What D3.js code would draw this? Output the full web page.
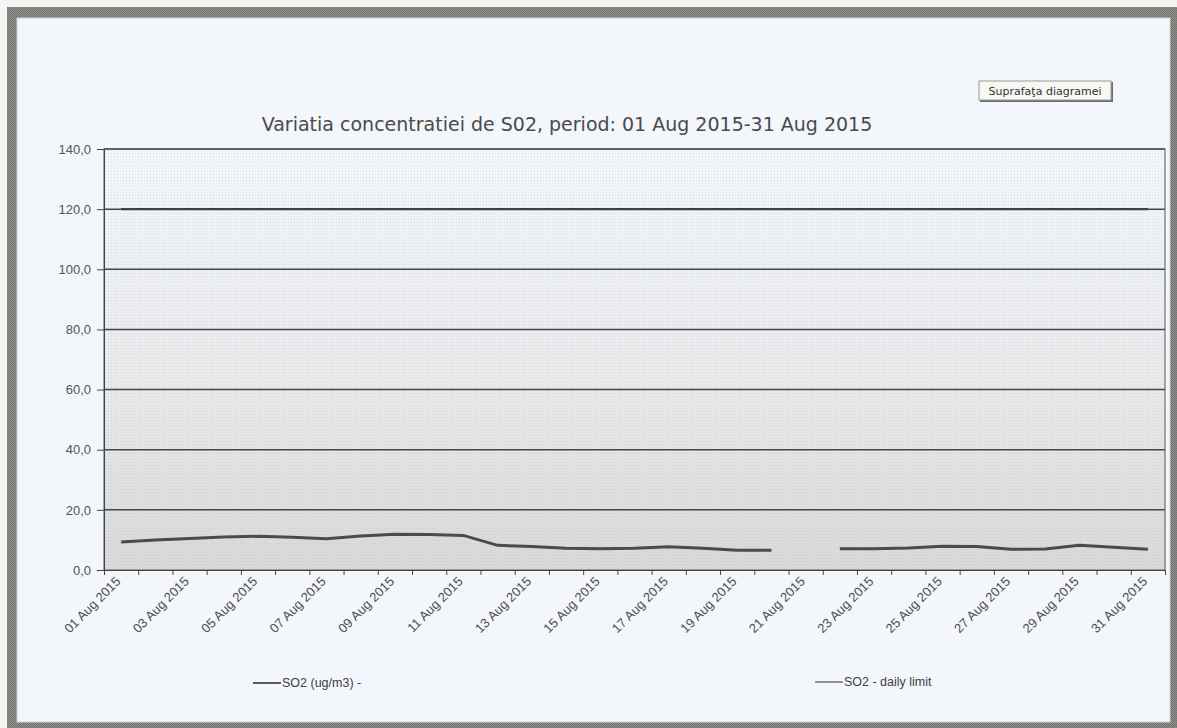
<!DOCTYPE html>
<html>
<head>
<meta charset="utf-8">
<script src="https://cdn.jsdelivr.net/npm/d3@7"></script>
<style>
  body { margin: 0; background: #f4f4f2; }
  svg { display: block; }
  .tick text { font-family: "Liberation Sans", Arial, sans-serif; }
</style>
</head>
<body>
<div id="chart"></div>
<script>
// Data
const days = [
  "01 Aug 2015", "02 Aug 2015", "03 Aug 2015", "04 Aug 2015", "05 Aug 2015", "06 Aug 2015",
  "07 Aug 2015", "08 Aug 2015", "09 Aug 2015", "10 Aug 2015", "11 Aug 2015", "12 Aug 2015",
  "13 Aug 2015", "14 Aug 2015", "15 Aug 2015", "16 Aug 2015", "17 Aug 2015", "18 Aug 2015",
  "19 Aug 2015", "20 Aug 2015", "21 Aug 2015", "22 Aug 2015", "23 Aug 2015", "24 Aug 2015",
  "25 Aug 2015", "26 Aug 2015", "27 Aug 2015", "28 Aug 2015", "29 Aug 2015", "30 Aug 2015",
  "31 Aug 2015"
];
// null = no measurement that day
const so2Values = [
  9.3, 10.0, 10.5, 11.0, 11.2, 10.9, 10.4, 11.3, 11.9, 11.8, 11.5, 8.2,
  7.8, 7.2, 7.1, 7.2, 7.7, 7.2, 6.6, 6.6, null, 7.1, 7.1, 7.3,
  7.9, 7.8, 6.9, 7.0, 8.2, 7.6, 6.9
];
const dailyLimit = days.map(() => 120);
const yTicks = [0, 20, 40, 60, 80, 100, 120, 140];
const labelDays = days.filter((d, i) => i % 2 === 0);

const W = 1177, H = 728;
const plot = { left: 104, right: 1165, top: 149, bottom: 570 };

const svg = d3.select("#chart").append("svg")
  .attr("width", W)
  .attr("height", H);

const defs = svg.append("defs");

// rough texture for the outer frame
const pat = defs.append("pattern")
  .attr("id", "frameTex")
  .attr("width", 2).attr("height", 2)
  .attr("patternUnits", "userSpaceOnUse");
pat.append("rect").attr("width", 2).attr("height", 2).attr("fill", "#8e8f8b");
pat.append("rect").attr("width", 1).attr("height", 1).attr("fill", "#6f706c");
pat.append("rect").attr("x", 1).attr("y", 1).attr("width", 1).attr("height", 1).attr("fill", "#7a7b77");

const grad = defs.append("linearGradient")
  .attr("id", "plotGrad")
  .attr("x1", 0).attr("y1", 0).attr("x2", 0).attr("y2", 1);
grad.append("stop").attr("offset", "0%").attr("stop-color", "#f3f6fa");
grad.append("stop").attr("offset", "55%").attr("stop-color", "#e8eaec");
grad.append("stop").attr("offset", "100%").attr("stop-color", "#d8d9d8");

// dotted overlay on plot area
const dots = defs.append("pattern")
  .attr("id", "plotDots")
  .attr("width", 3).attr("height", 3)
  .attr("patternUnits", "userSpaceOnUse");
dots.append("rect").attr("width", 1).attr("height", 1).attr("fill", "#b0b0b0").attr("opacity", 0.3);

// page + frame
svg.append("rect").attr("width", W).attr("height", H).attr("fill", "#f4f4f2");
svg.append("rect").attr("x", 7).attr("y", 7).attr("width", W - 7).attr("height", H - 7)
  .attr("fill", "url(#frameTex)");
svg.append("rect").attr("x", 17).attr("y", 18).attr("width", 1153).attr("height", 704)
  .attr("fill", "#f3f6fb")
  .attr("stroke", "#d0d3d6");

// scales
const x = d3.scaleBand().domain(days).range([plot.left, plot.right]).padding(0);
const xEdge = d3.scaleLinear().domain([0, days.length]).range([plot.left, plot.right]);
const y = d3.scaleLinear().domain([0, 140]).range([plot.bottom, plot.top]);
const cx = d => x(d) + x.bandwidth() / 2;

// plot area
svg.append("rect")
  .attr("x", plot.left).attr("y", plot.top)
  .attr("width", plot.right - plot.left).attr("height", plot.bottom - plot.top)
  .attr("fill", "url(#plotGrad)");
svg.append("rect")
  .attr("x", plot.left).attr("y", plot.top)
  .attr("width", plot.right - plot.left).attr("height", plot.bottom - plot.top)
  .attr("fill", "url(#plotDots)");

// gridlines
svg.append("g")
  .selectAll("line")
  .data(yTicks.filter(t => t > 0))
  .join("line")
  .attr("x1", plot.left).attr("x2", plot.right)
  .attr("y1", d => y(d)).attr("y2", d => y(d))
  .attr("stroke", "#444545")
  .attr("stroke-width", 1.5);

// plot border
svg.append("rect")
  .attr("x", plot.left).attr("y", plot.top)
  .attr("width", plot.right - plot.left).attr("height", plot.bottom - plot.top)
  .attr("fill", "none")
  .attr("stroke", "#555")
  .attr("stroke-width", 1);

// y axis
const yAxis = svg.append("g")
  .attr("transform", `translate(${plot.left},0)`)
  .call(d3.axisLeft(y).tickValues(yTicks).tickSize(7).tickPadding(6)
    .tickFormat(d => d3.format(".1f")(d).replace(".", ",")));
yAxis.select(".domain").attr("stroke", "#444");
yAxis.selectAll(".tick line").attr("stroke", "#444");
yAxis.selectAll(".tick text").attr("font-size", 13).attr("fill", "#555");

// x axis: ticks at category boundaries
const xTicks = svg.append("g")
  .attr("transform", `translate(0,${plot.bottom})`)
  .call(d3.axisBottom(xEdge).tickValues(d3.range(days.length + 1)).tickSize(5).tickFormat(""));
xTicks.select(".domain").attr("stroke", "#444");
xTicks.selectAll(".tick line").attr("stroke", "#444");

// x labels every second day, rotated
const xLabels = svg.append("g")
  .attr("transform", `translate(0,${plot.bottom})`)
  .call(d3.axisBottom(x).tickValues(labelDays).tickSize(0));
xLabels.select(".domain").remove();
xLabels.selectAll(".tick text")
  .attr("font-size", 13)
  .attr("fill", "#4f4f4f")
  .attr("text-anchor", "end")
  .attr("transform", "translate(-3,9) rotate(-45)")
  .attr("dy", "0.35em")
  .attr("y", 0);

// daily limit series
const limitLine = d3.line()
  .x((d, i) => cx(days[i]))
  .y(d => y(d));
svg.append("path")
  .datum(dailyLimit)
  .attr("d", limitLine)
  .attr("fill", "none")
  .attr("stroke", "#404141")
  .attr("stroke-width", 2.2);

// SO2 series (gap where no data)
const so2Line = d3.line()
  .defined(d => d != null)
  .x((d, i) => cx(days[i]))
  .y(d => y(d));
svg.append("path")
  .datum(so2Values)
  .attr("d", so2Line)
  .attr("fill", "none")
  .attr("stroke", "#4a4b4b")
  .attr("stroke-width", 3);

// title
svg.append("text")
  .attr("x", 567).attr("y", 131)
  .attr("text-anchor", "middle")
  .attr("font-family", "DejaVu Sans, sans-serif")
  .attr("font-size", 19)
  .attr("fill", "#4a4a4a")
  .text("Variatia concentratiei de S02, period: 01 Aug 2015-31 Aug 2015");

// "chart area" tooltip box
const tip = svg.append("g").attr("transform", "translate(979,81)");
tip.append("rect").attr("x", 1).attr("y", 1).attr("width", 133).attr("height", 20).attr("fill", "#6e6e6e");
tip.append("rect").attr("width", 132).attr("height", 19).attr("fill", "#f7f8f3").attr("stroke", "#9a9a9a");
tip.append("text")
  .attr("x", 66).attr("y", 14)
  .attr("text-anchor", "middle")
  .attr("font-family", "DejaVu Sans, sans-serif")
  .attr("font-size", 11)
  .attr("fill", "#333")
  .text("Suprafaţa diagramei");

// legend
const legendItems = [
  { label: "SO2 (ug/m3)  -", x: 253, y: 683, w: 1.8, color: "#4a4b4b" },
  { label: "SO2 - daily limit", x: 815, y: 682, w: 1.4, color: "#6a6a6a" }
];
const legend = svg.append("g")
  .selectAll("g")
  .data(legendItems)
  .join("g")
  .attr("transform", d => `translate(${d.x},${d.y})`);
legend.append("line")
  .attr("x1", 0).attr("x2", 28)
  .attr("stroke", d => d.color)
  .attr("stroke-width", d => d.w);
legend.append("text")
  .attr("x", 29).attr("dy", "0.35em")
  .attr("font-family", "Liberation Sans, Arial, sans-serif")
  .attr("font-size", 12.5)
  .attr("fill", "#3f3f3f")
  .text(d => d.label);
</script>
</body>
</html>
